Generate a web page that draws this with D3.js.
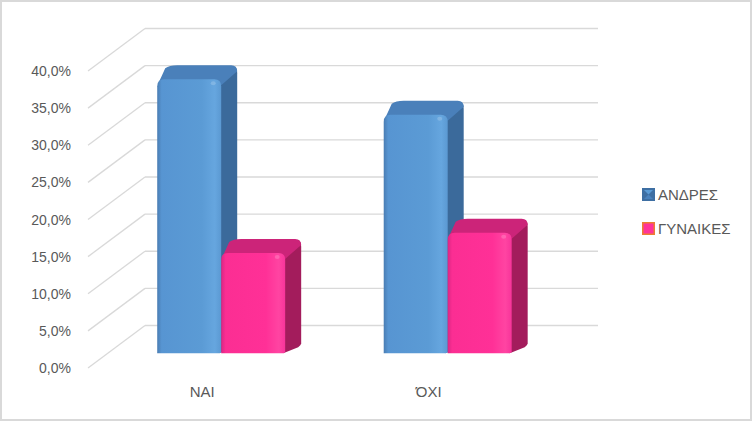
<!DOCTYPE html>
<html>
<head>
<meta charset="utf-8">
<script src="https://cdn.jsdelivr.net/npm/d3@7"></script>
<style>
  body { margin: 0; background: #fff; }
  text { font-family: "Liberation Sans", Arial, sans-serif; fill: #595959; }
</style>
</head>
<body>
<div id="chart"></div>
<script>
// Chart data
const categories = ['ΝΑΙ', 'ΌΧΙ'];
const seriesNames = ['ΑΝΔΡΕΣ', 'ΓΥΝΑΙΚΕΣ'];
const andres = [0.369, 0.321];
const gynaikes = [0.135, 0.162];
const yTicks = [0, 0.05, 0.10, 0.15, 0.20, 0.25, 0.30, 0.35, 0.40];

const width = 752, height = 421;

// Greek locale: comma as decimal mark
const fmt = d3.formatLocale({ decimal: ',', thousands: '.', grouping: [3], currency: ['', '€'] }).format('.1%');

const svg = d3.select('#chart').append('svg')
    .attr('width', width)
    .attr('height', height);

const defs = svg.append('defs');

function hGrad(id, stops) {
    const g = defs.append('linearGradient').attr('id', id)
        .attr('x1', 0).attr('x2', 1).attr('y1', 0).attr('y2', 0);
    stops.forEach(s => g.append('stop').attr('offset', s[0]).attr('stop-color', s[1]));
}
hGrad('blueFront', [[0, '#4a7db3'], [0.07, '#5795d2'], [0.7, '#5b9bd5'], [0.9, '#66a6df'], [1, '#5b99d2']]);
hGrad('pinkFront', [[0, '#db2683'], [0.07, '#fb2e93'], [0.7, '#ff3097'], [0.9, '#ff44a2'], [1, '#f7349a']]);

// outer chart border
svg.append('rect')
    .attr('x', 1).attr('y', 1)
    .attr('width', width - 2).attr('height', height - 2)
    .attr('fill', '#fff')
    .attr('stroke', '#d9d9d9')
    .attr('stroke-width', 2);

// Front plane scales + oblique depth offset
const plotLeft = 88, plotRight = 541;
const depthX = 57, depthY = -42.5;

const y = d3.scaleLinear().domain([0, 0.4]).range([368, 71]);
const x0 = d3.scaleBand().domain(categories).range([plotLeft, plotRight]);
const x1 = d3.scaleBand().domain(seriesNames).range([0, x0.bandwidth()])
    .paddingInner(0).paddingOuter(0.77);

// Gridlines: side wall diagonals and back wall horizontals
const grid = svg.append('g');
yTicks.forEach(t => {
    grid.append('line')
        .attr('x1', plotLeft).attr('y1', y(t))
        .attr('x2', plotLeft + depthX).attr('y2', y(t) + depthY)
        .attr('stroke', '#d9d9d9').attr('stroke-width', 1.3);
    grid.append('line')
        .attr('x1', plotLeft + depthX).attr('y1', y(t) + depthY)
        .attr('x2', plotRight + depthX).attr('y2', y(t) + depthY)
        .attr('stroke', '#d9d9d9').attr('stroke-width', 1.3);
});

// Y axis labels
svg.append('g').selectAll('text')
    .data(yTicks)
    .enter()
    .append('text')
    .attr('x', 71)
    .attr('y', d => y(d) + 5)
    .attr('text-anchor', 'end')
    .style('font-size', '14px')
    .text(d => fmt(d));

// Bars
const barDepth = 0.35;          // position of front face within the depth
const sideDx = 16, sideDy = -14; // bar thickness in depth
const colors = {
    'ΑΝΔΡΕΣ': { front: 'url(#blueFront)', top: '#4a80ba', side: '#3b6a9b' },
    'ΓΥΝΑΙΚΕΣ': { front: 'url(#pinkFront)', top: '#cc2479', side: '#a31c5c' }
};

const barData = [];
categories.forEach((c, i) => {
    barData.push({ cat: c, series: 'ΑΝΔΡΕΣ', value: andres[i] });
    barData.push({ cat: c, series: 'ΓΥΝΑΙΚΕΣ', value: gynaikes[i] });
});

const bars = svg.append('g');
barData.forEach(d => {
    const xa = x0(d.cat) + x1(d.series) + barDepth * depthX;
    const xb = xa + x1.bandwidth();
    const yb = y(0) + barDepth * depthY;
    const yt = y(d.value) + barDepth * depthY;
    const c = colors[d.series];
    const r = 7;
    const g = bars.append('g');

    // side face
    g.append('path')
        .attr('d', `M${xb - 2},${yt + 2} L${xb + sideDx - 1},${yt + sideDy + 3} Q${xb + sideDx},${yt + sideDy + 4} ${xb + sideDx},${yt + sideDy + 8}
                    L${xb + sideDx},${yb + sideDy + 4} Q${xb + sideDx},${yb + sideDy + 6} ${xb + sideDx - 3},${yb + sideDy + 8}
                    L${xb - 2},${yb} Z`)
        .attr('fill', c.side);

    // top face
    g.append('path')
        .attr('d', `M${xa + 2},${yt + 2} Q${xa + 4},${yt - 2} ${xa + 8},${yt + sideDy + 3}
                    Q${xa + sideDx - 4},${yt + sideDy} ${xa + sideDx + 4},${yt + sideDy}
                    L${xb + sideDx - 6},${yt + sideDy} Q${xb + sideDx},${yt + sideDy} ${xb + sideDx},${yt + sideDy + 6}
                    L${xb},${yt + 6} Z`)
        .attr('fill', c.top);

    // front face with rounded top corners
    g.append('path')
        .attr('d', `M${xa},${yb} L${xa},${yt + r} Q${xa},${yt} ${xa + r},${yt}
                    L${xb - r},${yt} Q${xb},${yt} ${xb},${yt + r}
                    L${xb},${yb - 2} Q${xb},${yb} ${xb - 2},${yb} Z`)
        .attr('fill', c.front);

    // small specular highlight
    g.append('ellipse')
        .attr('cx', xb - 8).attr('cy', yt + 4)
        .attr('rx', 2.5).attr('ry', 2)
        .attr('fill', '#ffffff').attr('opacity', 0.18);
});

// Category labels
svg.append('g').selectAll('text')
    .data(categories)
    .enter()
    .append('text')
    .attr('x', d => x0(d) + x0.bandwidth() / 2 + 1)
    .attr('y', 397)
    .attr('text-anchor', 'middle')
    .style('font-size', '15px')
    .text(d => d);

// Legend
const legend = svg.append('g').attr('transform', 'translate(642, 188)');
seriesNames.forEach((name, i) => {
    const g = legend.append('g').attr('transform', `translate(0, ${i * 34})`);
    if (i === 0) {
        g.append('rect').attr('width', 13).attr('height', 13).attr('fill', '#3e6fa3');
        g.append('path').attr('d', 'M2,2 L11,2 L6.5,6.5 Z').attr('fill', '#5b9bd5');
        g.append('path').attr('d', 'M2,11 L11,11 L6.5,6.5 Z').attr('fill', '#4a82bd');
    } else {
        g.append('rect').attr('x', 0.75).attr('y', 0.75).attr('width', 11.5).attr('height', 11.5)
            .attr('fill', '#ff3399').attr('stroke', '#ed7d31').attr('stroke-width', 1.5);
    }
    g.append('text')
        .attr('x', 16)
        .attr('y', 12)
        .style('font-size', '15px')
        .text(name);
});
</script>
</body>
</html>
